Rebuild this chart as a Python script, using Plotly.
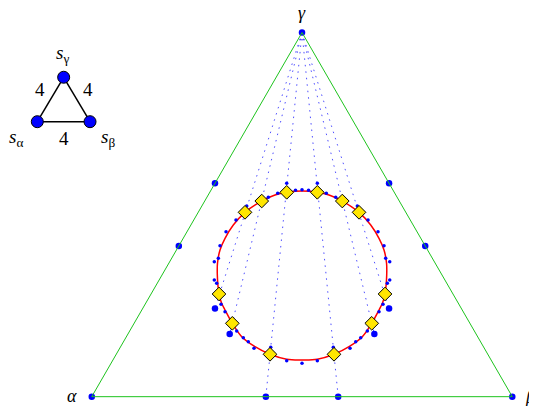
import plotly.graph_objects as go

# ---------------- data (ternary compositions: alpha, beta, gamma) ----------------
curve_alpha = [0.2176, 0.2558, 0.2873, 0.3272, 0.3825, 0.4277, 0.4657, 0.4936, 0.5175, 0.5343,
               0.5478, 0.5564, 0.5628, 0.5641, 0.5651, 0.5611, 0.5432, 0.5179, 0.4851, 0.4496,
               0.4123, 0.3657, 0.3196, 0.2743, 0.2335, 0.1979, 0.1800, 0.1616, 0.1482, 0.1315,
               0.1155, 0.1036, 0.0995, 0.1009, 0.1113, 0.1356, 0.1589, 0.1830, 0.2176]
curve_beta = [0.2176, 0.1830, 0.1589, 0.1356, 0.1113, 0.1009, 0.0995, 0.1036, 0.1155, 0.1315,
              0.1482, 0.1616, 0.1800, 0.1979, 0.2335, 0.2743, 0.3196, 0.3657, 0.4123, 0.4496,
              0.4851, 0.5179, 0.5432, 0.5611, 0.5651, 0.5641, 0.5628, 0.5564, 0.5478, 0.5343,
              0.5175, 0.4936, 0.4657, 0.4277, 0.3825, 0.3272, 0.2873, 0.2558, 0.2176]
curve_gamma = [0.5648, 0.5612, 0.5538, 0.5373, 0.5063, 0.4714, 0.4349, 0.4028, 0.3671, 0.3342,
               0.3040, 0.2820, 0.2573, 0.2381, 0.2015, 0.1647, 0.1373, 0.1164, 0.1027, 0.1008,
               0.1027, 0.1164, 0.1373, 0.1647, 0.2015, 0.2381, 0.2573, 0.2820, 0.3040, 0.3342,
               0.3671, 0.4028, 0.4349, 0.4714, 0.5063, 0.5373, 0.5538, 0.5612, 0.5648]

diamond_alpha = [0.2558, 0.3272, 0.3825, 0.5564, 0.5651, 0.5179, 0.1830, 0.1356, 0.1113, 0.1616, 0.2335, 0.3657]
diamond_beta = [0.1830, 0.1356, 0.1113, 0.1616, 0.2335, 0.3657, 0.2558, 0.3272, 0.3825, 0.5564, 0.5651, 0.5179]
diamond_gamma = [0.5612, 0.5373, 0.5063, 0.2820, 0.2015, 0.1164, 0.5612, 0.5373, 0.5063, 0.2820, 0.2015, 0.1164]

# rays from the gamma corner: end points
ray_alpha = [0.586, 0.586, 0.586, 0.172, 0.242, 0.414]
ray_beta = [0.172, 0.242, 0.414, 0.586, 0.586, 0.586]
ray_gamma = [0.242, 0.172, 0.000, 0.242, 0.172, 0.000]

vertex_alpha = [1, 0, 0]
vertex_beta = [0, 1, 0]
vertex_gamma = [0, 0, 1]

edge_alpha = [0.414, 0.586, 0.000, 0.000, 0.586, 0.414]
edge_beta = [0.000, 0.000, 0.414, 0.586, 0.414, 0.586]
edge_gamma = [0.586, 0.414, 0.586, 0.414, 0.000, 0.000]

inner_alpha = [0.586, 0.586, 0.172, 0.242]
inner_beta = [0.172, 0.242, 0.586, 0.586]
inner_gamma = [0.242, 0.172, 0.242, 0.172]

small_alpha = [0.2434, 0.2786, 0.3063, 0.3697, 0.4144, 0.4542, 0.4877, 0.5090, 0.5233, 0.5484,
               0.5472, 0.5658, 0.5664, 0.5651, 0.5586, 0.5522, 0.5478, 0.5066, 0.4870, 0.2321,
               0.2160, 0.4541,
               0.1706, 0.1630, 0.1461, 0.1067, 0.1004, 0.0928, 0.0977, 0.1110, 0.1061, 0.1312,
               0.1414, 0.1806, 0.2002, 0.2545, 0.2794, 0.2968, 0.3194, 0.3578, 0.4142, 0.2011]
small_beta = [0.1706, 0.1630, 0.1461, 0.1067, 0.1004, 0.0928, 0.0977, 0.1110, 0.1061, 0.1312,
              0.1414, 0.1806, 0.2002, 0.2545, 0.2794, 0.2968, 0.3194, 0.3578, 0.4142, 0.2011,
              0.2160, 0.4541,
              0.2434, 0.2786, 0.3063, 0.3697, 0.4144, 0.4542, 0.4877, 0.5090, 0.5233, 0.5484,
              0.5472, 0.5658, 0.5664, 0.5651, 0.5586, 0.5522, 0.5478, 0.5066, 0.4870, 0.2321]
small_gamma = [0.5859, 0.5585, 0.5475, 0.5236, 0.4852, 0.4530, 0.4146, 0.3800, 0.3707, 0.3204,
               0.3114, 0.2537, 0.2334, 0.1804, 0.1620, 0.1510, 0.1329, 0.1356, 0.0988, 0.5667,
               0.5681, 0.0917,
               0.5859, 0.5585, 0.5475, 0.5236, 0.4852, 0.4530, 0.4146, 0.3800, 0.3707, 0.3204,
               0.3114, 0.2537, 0.2334, 0.1804, 0.1620, 0.1510, 0.1329, 0.1356, 0.0988, 0.5667]

# inset graph: nodes s_alpha, s_beta, s_gamma and edge weights
node_x = [0.0, 1.0, 0.5]
node_y = [0.0, 0.0, 0.866]
edge_weights = ["4", "4", "4"]

SERIF = '"Liberation Serif", "Times New Roman", serif'
GREEN = "rgb(30,195,30)"

# the page body adds an 8px margin, so the figure is drawn 8px in from the corner
W, H = 529, 398
OFF = 8

fig = go.Figure()

# dotted rays from gamma corner
ra, rb, rc = [], [], []
for a, b, c in zip(ray_alpha, ray_beta, ray_gamma):
    ra += [0, a, None]
    rb += [0, b, None]
    rc += [1, c, None]
fig.add_trace(go.Scatterternary(a=rc, b=ra, c=rb, mode="lines",
                                line=dict(color="rgba(20,20,255,0.75)", width=1, dash="1.5px,5px"),
                                hoverinfo="skip"))

# red closed curve
fig.add_trace(go.Scatterternary(a=curve_gamma, b=curve_alpha, c=curve_beta, mode="lines",
                                line=dict(color="red", width=1.5, shape="spline"),
                                hoverinfo="skip"))

# small blue dots
fig.add_trace(go.Scatterternary(a=small_gamma, b=small_alpha, c=small_beta, mode="markers",
                                marker=dict(color="blue", size=3.5), hoverinfo="skip"))

# larger blue dots
fig.add_trace(go.Scatterternary(a=vertex_gamma + edge_gamma + inner_gamma,
                                b=vertex_alpha + edge_alpha + inner_alpha,
                                c=vertex_beta + edge_beta + inner_beta,
                                mode="markers", marker=dict(color="blue", size=6.5),
                                hoverinfo="skip", cliponaxis=False))

# yellow diamonds
fig.add_trace(go.Scatterternary(a=diamond_gamma, b=diamond_alpha, c=diamond_beta, mode="markers",
                                marker=dict(symbol="diamond", color="#FFE600", size=10.5,
                                            line=dict(color="black", width=1)),
                                hoverinfo="skip"))

# inset graph
ex, ey = [], []
for i, j in [(0, 1), (1, 2), (2, 0)]:
    ex += [node_x[i], node_x[j], None]
    ey += [node_y[i], node_y[j], None]
fig.add_trace(go.Scatter(x=ex, y=ey, mode="lines", line=dict(color="black", width=1.5),
                         xaxis="x", yaxis="y", hoverinfo="skip", cliponaxis=False))
fig.add_trace(go.Scatter(x=node_x, y=node_y, mode="markers",
                         marker=dict(color="blue", size=12, line=dict(color="black", width=1)),
                         xaxis="x", yaxis="y", hoverinfo="skip", cliponaxis=False))

ax_common = dict(showgrid=False, showticklabels=False, ticks="", showline=True,
                 linecolor=GREEN, linewidth=1, title=dict(text=""))


def px(x):
    return (x - OFF) / W


def py(y):
    return 1 - (y - OFF) / H


annotations = []
# vertex labels
for txt, lx, ly, anchor in [("<i>α</i>", 71.5, 396, "center"),
                            ("<i>β</i>", 537, 397, "right"),
                            ("<i>γ</i>", 302, 13, "center")]:
    annotations.append(dict(text=txt, x=px(lx), y=py(ly), xref="paper", yref="paper",
                            showarrow=False, xanchor=anchor, yanchor="middle",
                            font=dict(family=SERIF, size=18, color="black")))
# inset labels
edge_label_pos = [(0.06, 0.62), (0.97, 0.62), (0.507, -0.32)]
for w, (lx, ly) in zip(edge_weights, edge_label_pos):
    annotations.append(dict(text=w, x=lx, y=ly, xref="x", yref="y", showarrow=False,
                            xanchor="center", yanchor="middle",
                            font=dict(family=SERIF, size=19, color="black")))
for txt, lx, ly in [("<i>s</i><sub>γ</sub>", 0.47, 1.31), ("<i>s</i><sub>α</sub>", -0.40, -0.32),
                    ("<i>s</i><sub>β</sub>", 1.34, -0.32)]:
    annotations.append(dict(text=txt, x=lx, y=ly, xref="x", yref="y", showarrow=False,
                            xanchor="center", yanchor="middle",
                            font=dict(family=SERIF, size=19, color="black")))

fig.update_layout(
    width=W, height=H,
    margin=dict(l=0, r=0, t=0, b=0),
    paper_bgcolor="white", plot_bgcolor="rgba(0,0,0,0)",
    showlegend=False,
    font=dict(family=SERIF),
    ternary=dict(
        domain=dict(x=[0.1558, 0.9558], y=[0.0234, 0.9384]),
        sum=1,
        bgcolor="rgba(0,0,0,0)",
        aaxis=ax_common, baxis=ax_common, caxis=ax_common,
    ),
    xaxis=dict(domain=[0, 0.25], range=[-0.556, 1.953], visible=False),
    yaxis=dict(domain=[0.6, 0.95], range=[-0.887, 1.828], visible=False),
    annotations=annotations,
)

fig.write_html("out.html")
